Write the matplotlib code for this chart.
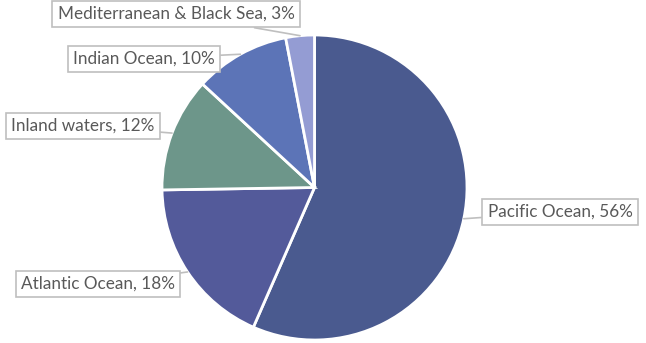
import matplotlib
matplotlib.use("Agg")
import matplotlib.pyplot as plt
import numpy as np

categories = ["Pacific Ocean", "Atlantic Ocean", "Inland waters", "Indian Ocean", "Mediterranean & Black Sea"]
values = [56, 18, 12, 10, 3]
pct_labels = ["56%", "18%", "12%", "10%", "3%"]
colors = ["#4A5A8F", "#535A9A", "#6D968A", "#5C74B7", "#949CD3"]
# label box centres (pixels, from top-left)
label_pos = [(560, 212), (98, 284), (83, 126), (144, 59), (176, 14)]

W, H = 646, 343
fig = plt.figure(figsize=(W / 100, H / 100), dpi=100)
ax = fig.add_axes([0, 0, 1, 1])
cx, cy, r = 314.5, H - 187.5, 152.5
wedges, _ = ax.pie(values, startangle=90, counterclock=False, colors=colors,
                   center=(cx, cy), radius=r,
                   wedgeprops=dict(edgecolor="white", linewidth=2))
ax.set_xlim(0, W)
ax.set_ylim(0, H)
ax.set_aspect("equal")
ax.axis("off")

for w, cat, p, (lx, ly) in zip(wedges, categories, pct_labels, label_pos):
    mid = np.deg2rad((w.theta1 + w.theta2) / 2)
    xy = (cx + r * np.cos(mid), cy + r * np.sin(mid))
    ax.annotate(f"{cat}, {p}", xy=xy, xytext=(lx, H - ly),
                ha="center", va="center", fontsize=12.3, color="#595959",
                family=["Lato", "DejaVu Sans"],
                bbox=dict(boxstyle="square,pad=0.3", fc="white", ec="#BFBFBF", lw=1.2),
                arrowprops=dict(arrowstyle="-", color="#BFBFBF", lw=1.2,
                                shrinkA=0, shrinkB=0))

fig.savefig("out.png", dpi=100)
